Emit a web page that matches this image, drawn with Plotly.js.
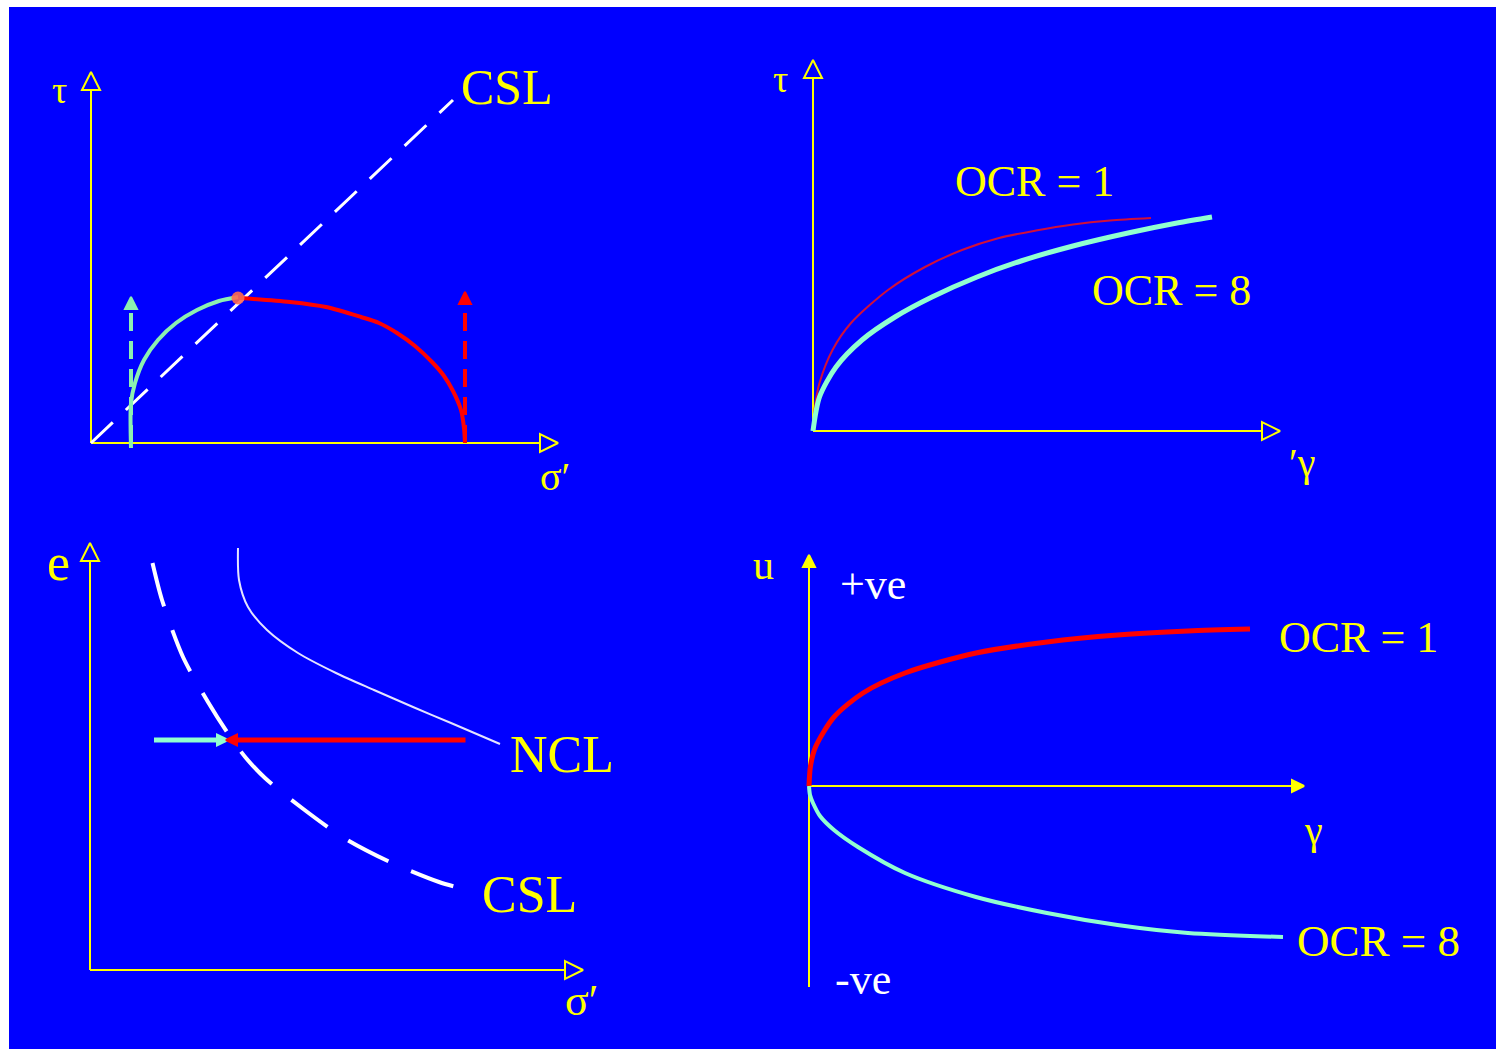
<!DOCTYPE html>
<html>
<head>
<meta charset="utf-8">
<script src="https://cdn.plot.ly/plotly-3.0.1.min.js"></script>
<style>
  html, body { margin: 0; padding: 0; background: #ffffff; }
  #chart { width: 1496px; height: 1049px; }
</style>
</head>
<body>
<div id="chart"></div>
<script>
// ---------- Panel A: stress paths in τ – σ′ space ----------
const aCslX = [0, 36.2];
const aCslY = [0, 34.3];
const aOcr8X = [4.0, 4.0, 4.4, 5.3, 6.7, 8.5, 10.6, 12.8, 14.7];
const aOcr8Y = [-0.5, 4.0, 6.0, 8.3, 10.3, 12.0, 13.3, 14.2, 14.6];
const aOcr1X = [14.9, 19.9, 23.5, 27.0, 28.8, 30.6, 32.4, 34.2, 35.3, 36.2, 37.0, 37.3, 37.4];
const aOcr1Y = [14.5, 14.1, 13.6, 12.6, 12.0, 11.0, 9.7, 8.0, 6.7, 5.2, 3.3, 1.5, 0];
const aFailX = [14.7];
const aFailY = [14.5];
const aTotalOcr8X = [4.0, 4.0];
const aTotalOcr8Y = [0, 14.6];
const aTotalOcr1X = [37.4, 37.4];
const aTotalOcr1Y = [0, 15.1];
const aAxisXEnd = 46.7;
const aAxisYEnd = 37.1;

// ---------- Panel B: τ – γ curves ----------
const bOcr1X = [0, 0.2, 0.65, 1.95, 3.8, 7.5, 11.2, 14.9, 18.6, 22.3, 26.0, 29.7, 33.8];
const bOcr1Y = [0, 2.5, 4.8, 8.1, 10.8, 14.1, 16.4, 18.1, 19.3, 20.05, 20.65, 21.05, 21.3];
const bOcr8X = [0, 0.65, 2.3, 4.9, 8.2, 11.9, 16.4, 20.8, 26.0, 31.5, 36.4, 39.9];
const bOcr8Y = [0, 3.4, 6.4, 9.1, 11.4, 13.4, 15.4, 17.0, 18.5, 19.8, 20.8, 21.4];
const bAxisXEnd = 46.7;
const bAxisYEnd = 37.1;

// ---------- Panel C: e – σ′ space ----------
const cNclX = [14.8, 14.9, 15.8, 17.7, 20.8, 24.6, 28.4, 32.3, 36.1, 41.0];
const cNclY = [42.2, 39.0, 36.3, 34.0, 31.7, 29.7, 28.0, 26.3, 24.7, 22.6];
const cCslX = [6.25, 7.2, 9.3, 11.8, 13.9, 15.6, 17.5, 21.2, 25.4, 30.0, 34.9, 37.8];
const cCslY = [40.7, 37.0, 31.3, 26.8, 23.5, 21.2, 19.2, 16.2, 13.2, 10.8, 8.8, 8.0];
const cPathE = 23.0;
const cOcr8Start = 6.4;
const cOcr1Start = 37.55;
const cMeet = 13.8;
const cAxisXEnd = 49.3;
const cAxisYEnd = 42.7;

// ---------- Panel D: excess pore pressure u – γ ----------
const dOcr1X = [0, 0.15, 0.65, 2.5, 5.4, 9.6, 16.7, 23.8, 30.85, 37.9, 44.1];
const dOcr1Y = [0, 2.0, 3.9, 6.9, 9.3, 11.3, 13.3, 14.4, 15.1, 15.5, 15.7];
const dOcr8X = [0, 0.1, 0.4, 1.1, 2.5, 4.9, 9.6, 16.7, 23.8, 30.85, 37.9, 47.4];
const dOcr8Y = [0, -0.9, -1.7, -3.0, -4.4, -6.1, -8.7, -11.1, -12.7, -13.9, -14.7, -15.1];
const dAxisXEnd = 49.5;
const dAxisYEnd = 23.1;
const dAxisYStart = -20.1;

// ---------- styling ----------
const W = 1496, H = 1049, PX = 10;   // PX: pixels per data unit in every panel
const YEL = '#FFFF00', WHITE = '#FFFFFF', BLUE = '#0000FF';
const RED = '#FF0000', MINT = '#8CF0B0', AQUA = '#90FFD0', CRIMSON = '#D0103A';
const SERIF = 'Liberation Serif, Times New Roman, serif';

// Place a panel so its origin sits at (ox, oy) on the page with equal scaling.
function panel(ox, oy, xr, yr) {
  return {
    x: { domain: [(ox + xr[0] * PX) / W, (ox + xr[1] * PX) / W], range: xr,
         visible: false, fixedrange: true },
    y: { domain: [1 - (oy - yr[0] * PX) / H, 1 - (oy - yr[1] * PX) / H], range: yr,
         visible: false, fixedrange: true }
  };
}
const pA = panel(91, 443, [-8, 50], [-6, 40]);
const pB = panel(813, 431, [-6, 52], [-6, 40]);
const pC = panel(90, 970, [-6, 56], [-7, 45]);
const pD = panel(809, 786, [-7, 66], [-24, 26]);

const traces = [];
function line(ax, x, y, color, width, opts) {
  opts = opts || {};
  traces.push({
    type: 'scatter', mode: 'lines', x: x, y: y,
    xaxis: 'x' + ax, yaxis: 'y' + ax, cliponaxis: false, hoverinfo: 'skip',
    line: { color: color, width: width, dash: opts.dash || 'solid',
            shape: opts.spline ? 'spline' : 'linear', smoothing: 0.8 }
  });
}
function head(ax, x, y, symbol, size, color) {
  traces.push({
    type: 'scatter', mode: 'markers', x: [x], y: [y],
    xaxis: 'x' + ax, yaxis: 'y' + ax, cliponaxis: false, hoverinfo: 'skip',
    marker: { symbol: symbol, size: size, color: color, line: { color: color, width: 2 } }
  });
}
// axes with hollow arrow heads
function openAxes(ax, xEnd, yEnd) {
  const len = 1.8;
  line(ax, [0, xEnd - len], [0, 0], YEL, 2);
  line(ax, [0, 0], [0, yEnd - len], YEL, 2);
  head(ax, xEnd, 0, 'arrow-right-open', 18, YEL);
  head(ax, 0, yEnd, 'arrow-up-open', 18, YEL);
}

// Panel A
openAxes('', aAxisXEnd, aAxisYEnd);
line('', aCslX, aCslY, WHITE, 3, { dash: '30px,18px' });
line('', aTotalOcr8X, [aTotalOcr8Y[0], aTotalOcr8Y[1] - 1.2], MINT, 4, { dash: '18px,10px' });
head('', aTotalOcr8X[1], aTotalOcr8Y[1], 'arrow-up', 12, MINT);
line('', aTotalOcr1X, [aTotalOcr1Y[0], aTotalOcr1Y[1] - 1.2], RED, 4, { dash: '18px,10px' });
head('', aTotalOcr1X[1], aTotalOcr1Y[1], 'arrow-up', 12, RED);
line('', aOcr8X, aOcr8Y, MINT, 4, { spline: true });
line('', aOcr1X, aOcr1Y, RED, 4, { spline: true });
traces.push({
  type: 'scatter', mode: 'markers', x: aFailX, y: aFailY, xaxis: 'x', yaxis: 'y',
  cliponaxis: false, hoverinfo: 'skip',
  marker: { symbol: 'circle', size: 13, color: '#FF6A50', opacity: 0.9 }
});

// Panel B
openAxes('2', bAxisXEnd, bAxisYEnd);
line('2', bOcr1X, bOcr1Y, CRIMSON, 2, { spline: true });
line('2', bOcr8X, bOcr8Y, AQUA, 5, { spline: true });

// Panel C
openAxes('3', cAxisXEnd, cAxisYEnd);
line('3', cNclX, cNclY, '#E4E4FF', 2, { spline: true });
line('3', cCslX, cCslY, WHITE, 4, { spline: true, dash: '45px,25px' });
line('3', [cOcr8Start, cMeet - 0.9], [cPathE, cPathE], AQUA, 5);
line('3', [cOcr1Start, cMeet + 0.9], [cPathE, cPathE], RED, 5);
head('3', cMeet, cPathE, 'arrow-right', 11, AQUA);
head('3', cMeet - 0.2, cPathE, 'arrow-left', 11, RED);

// Panel D (solid arrow heads)
line('4', [0, dAxisXEnd - 1.0], [0, 0], YEL, 2);
line('4', [0, 0], [dAxisYStart, dAxisYEnd - 1.0], YEL, 2);
head('4', dAxisXEnd, 0, 'arrow-right', 12, YEL);
head('4', 0, dAxisYEnd, 'arrow-up', 12, YEL);
line('4', dOcr1X, dOcr1Y, RED, 5, { spline: true });
line('4', dOcr8X, dOcr8Y, AQUA, 4, { spline: true });

// Labels
function label(ax, x, y, text, size, color) {
  return {
    xref: 'x' + ax, yref: 'y' + ax, x: x, y: y, text: text, showarrow: false,
    xanchor: 'center', yanchor: 'middle',
    font: { family: SERIF, size: size, color: color || YEL }
  };
}
const annotations = [
  label('', -3.2, 35.3, 'τ', 38),
  label('', 41.6, 35.6, 'CSL', 50),
  label('', 46.4, -3.4, 'σ′', 40),

  label('2', -3.2, 35.2, 'τ', 38),
  label('2', 48.9, -3.1, '′γ', 40),
  label('2', 22.1, 25.0, 'OCR = 1', 44),
  label('2', 35.8, 14.1, 'OCR = 8', 44),

  label('3', -3.2, 40.7, 'e', 52),
  label('3', 49.1, -3.1, 'σ′', 44),
  label('3', 47.2, 21.5, 'NCL', 52),
  label('3', 43.9, 7.5, 'CSL', 52),

  label('4', -4.55, 22.1, 'u', 42),
  label('4', 6.4, 20.2, '+ve', 44, WHITE),
  label('4', 5.35, -19.3, '-ve', 44, WHITE),
  label('4', 50.45, -4.4, 'γ', 40),
  label('4', 54.9, 14.9, 'OCR = 1', 44),
  label('4', 56.95, -15.5, 'OCR = 8', 45)
];

const layout = {
  width: W, height: H,
  margin: { l: 0, r: 0, t: 0, b: 0, pad: 0 },
  paper_bgcolor: '#FFFFFF',
  plot_bgcolor: 'rgba(0,0,0,0)',
  showlegend: false,
  hovermode: false,
  shapes: [{
    type: 'rect', xref: 'paper', yref: 'paper', layer: 'below',
    x0: 9 / W, x1: 1, y0: 0, y1: 1 - 7 / H,
    fillcolor: BLUE, line: { width: 0 }
  }],
  xaxis: pA.x, yaxis: pA.y,
  xaxis2: pB.x, yaxis2: pB.y,
  xaxis3: pC.x, yaxis3: pC.y,
  xaxis4: pD.x, yaxis4: pD.y,
  annotations: annotations
};

Plotly.newPlot('chart', traces, layout, { staticPlot: true, displayModeBar: false });
</script>
</body>
</html>
